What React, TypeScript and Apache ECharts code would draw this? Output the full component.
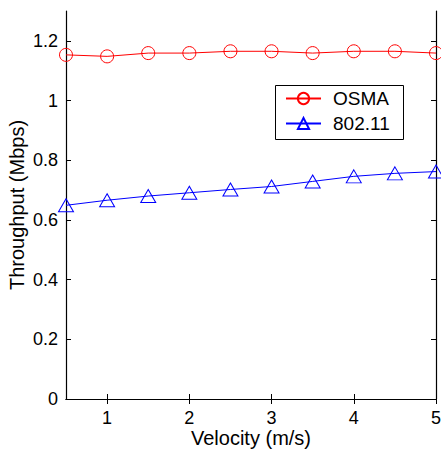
import React, { useEffect, useRef } from "react";
import * as echarts from "echarts";

const velocities = [0.5, 1, 1.5, 2, 2.5, 3, 3.5, 4, 4.5, 5];
const osma = [1.153, 1.148, 1.159, 1.159, 1.165, 1.165, 1.159, 1.165, 1.165, 1.159];
const wifi = [0.649, 0.666, 0.68, 0.691, 0.702, 0.712, 0.729, 0.746, 0.756, 0.762];
const xTicks = [1, 2, 3, 4, 5];
const yTicks = [0, 0.2, 0.4, 0.6, 0.8, 1, 1.2];
const seriesNames = ["OSMA", "802.11"];

const FONT = '"Liberation Sans", Arial, Helvetica, sans-serif';

export default function App() {
  const ref = useRef<HTMLDivElement>(null);
  useEffect(() => {
    if (!ref.current) return;
    const chart = echarts.init(ref.current, undefined, { renderer: "svg" });
    const tickStyle = { show: true, inside: true, length: 5, lineStyle: { color: "#000", width: 1 } };
    const lineAxis = { show: true, lineStyle: { color: "#000", width: 1.2 } };
    chart.setOption({
      animation: false,
      backgroundColor: "#fff",
      grid: { left: 66, top: 11, right: 5, bottom: 50, containLabel: false, outerBoundsMode: "none" },
      graphic: [
        {
          type: "rect",
          z: 3,
          shape: { x: 275.5, y: 85.5, width: 128, height: 54 },
          style: { fill: "#fff", stroke: "#000", lineWidth: 1 },
        },
      ],
      legend: {
        orient: "vertical",
        left: 285,
        top: 89,
        z: 10,
        padding: 0,
        itemGap: 6,
        itemWidth: 35,
        itemHeight: 14,
        textStyle: { fontFamily: FONT, fontSize: 19, color: "#000", padding: [0, 0, 0, 7] },
        data: seriesNames,
      },
      xAxis: [
        {
          type: "value",
          min: 0.5,
          max: 5,
          position: "bottom",
          name: "Velocity (m/s)",
          nameLocation: "middle",
          nameGap: 29,
          nameMoveOverlap: false,
          nameTextStyle: { fontFamily: FONT, fontSize: 20, color: "#000" },
          axisLine: lineAxis,
          axisTick: { ...tickStyle, customValues: xTicks },
          axisLabel: { customValues: xTicks, fontFamily: FONT, fontSize: 18, color: "#000", margin: 10 },
          splitLine: { show: false },
        },
        {
          type: "value",
          min: 0.5,
          max: 5,
          position: "top",
          axisLine: lineAxis,
          axisTick: { ...tickStyle, customValues: xTicks },
          axisLabel: { show: false },
          splitLine: { show: false },
        },
      ],
      yAxis: [
        {
          type: "value",
          min: 0,
          max: 1.3,
          position: "left",
          name: "Throughput (Mbps)",
          nameLocation: "middle",
          nameGap: 39,
          nameMoveOverlap: false,
          nameTextStyle: { fontFamily: FONT, fontSize: 20, color: "#000" },
          axisLine: lineAxis,
          axisTick: { ...tickStyle, customValues: yTicks },
          axisLabel: { customValues: yTicks, fontFamily: FONT, fontSize: 18, color: "#000", margin: 8 },
          splitLine: { show: false },
        },
        {
          type: "value",
          min: 0,
          max: 1.3,
          position: "right",
          axisLine: lineAxis,
          axisTick: { ...tickStyle, customValues: yTicks },
          axisLabel: { show: false },
          splitLine: { show: false },
        },
      ],
      series: [
        {
          name: seriesNames[0],
          type: "line",
          xAxisIndex: 0,
          yAxisIndex: 0,
          clip: false,
          data: velocities.map((v, i) => [v, osma[i]]),
          symbol: "circle",
          symbolSize: 13,
          lineStyle: { color: "#ff0000", width: 1 },
          itemStyle: { color: "rgba(255,255,255,0)", borderColor: "#ff0000", borderWidth: 1 },
        },
        {
          name: seriesNames[1],
          type: "line",
          xAxisIndex: 0,
          yAxisIndex: 0,
          clip: false,
          data: velocities.map((v, i) => [v, wifi[i]]),
          symbol: "triangle",
          symbolSize: [15, 13],
          lineStyle: { color: "#0000ff", width: 1 },
          itemStyle: { color: "rgba(255,255,255,0)", borderColor: "#0000ff", borderWidth: 1 },
        },
      ],
    });
    return () => chart.dispose();
  }, []);
  return (
    <div
      ref={ref}
      style={{ position: "absolute", left: 0, top: 0, width: 441, height: 449 }}
    />
  );
}
